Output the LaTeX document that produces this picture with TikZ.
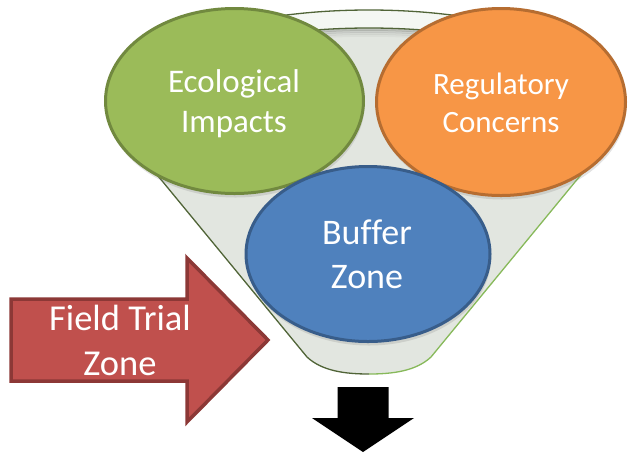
\documentclass[tikz,border=0pt]{standalone}
\usepackage{fontspec}
\setmainfont{Carlito}[Ligatures=NoCommon]
\usetikzlibrary{shapes.geometric,shadows}
\definecolor{ecoFill}{HTML}{9BBB59}
\definecolor{ecoLine}{HTML}{71893F}
\definecolor{regFill}{HTML}{F79646}
\definecolor{regLine}{HTML}{B66D31}
\definecolor{bufFill}{HTML}{4F81BD}
\definecolor{bufLine}{HTML}{385D8A}
\definecolor{ftFill}{HTML}{C0504D}
\definecolor{ftLine}{HTML}{8C3836}
\definecolor{funFill}{RGB}{226,230,224}
\definecolor{funRim}{RGB}{244,247,243}
\definecolor{funDark}{RGB}{80,100,55}
\definecolor{funLight}{RGB}{135,185,90}
\begin{document}
\begin{tikzpicture}[x=1pt,y=-1pt,
  bubble/.style={ellipse, draw, line width=3pt, inner sep=0pt,
    drop shadow={shadow xshift=1pt, shadow yshift=-4pt, opacity=0.22}},
  lbl/.style={text=white, anchor=base, inner sep=0pt},
  funedge/.style={line width=1.3pt},
]
\path[use as bounding box] (0,0) rectangle (628,456);
% funnel body
\fill[funFill] (119,100) .. controls (119,135) and (142,157) .. (163,182)
  -- (307,357) .. controls (322,371) and (345,374) .. (369,374)
  .. controls (393,374) and (416,371) .. (431,357)
  -- (575,182) .. controls (596,157) and (619,135) .. (619,100)
  arc[start angle=0, end angle=-180, x radius=250, y radius=90] -- cycle;
\fill[funRim] (619,100) arc[start angle=0, end angle=-180, x radius=250, y radius=90] -- cycle;
\fill[funFill] (369,100) ellipse[x radius=228, y radius=72];
\begin{scope}
  \clip (369,100) ellipse[x radius=228, y radius=72];
  \foreach \d/\o in {1.5/0.16, 3.5/0.10, 5.5/0.06, 7.5/0.03}
    \draw[black, opacity=\o, line width=2.5pt]
      (597,100+\d) arc[start angle=0, end angle=-180, x radius=228, y radius=72];
\end{scope}
\draw[funedge, funDark] (619,100) arc[start angle=0, end angle=-180, x radius=250, y radius=90];
\draw[funedge, funDark] (597,100) arc[start angle=0, end angle=-180, x radius=228, y radius=72];
\draw[funedge, funDark] (119,100) .. controls (119,135) and (142,157) .. (163,182)
  -- (307,357) .. controls (322,371) and (345,374) .. (369,374);
\draw[funedge, funLight] (369,374) .. controls (393,374) and (416,371) .. (431,357)
  -- (575,182) .. controls (596,157) and (619,135) .. (619,100);
% bubbles
\node[bubble, fill=ecoFill, draw=ecoLine, minimum width=258pt, minimum height=185pt] (eco) at (234.5,101) {};
\node[bubble, fill=regFill, draw=regLine, minimum width=249pt, minimum height=187pt] (reg) at (501,102) {};
\node[bubble, fill=bufFill, draw=bufLine, minimum width=244pt, minimum height=175pt] (buf) at (368,254) {};
\node[lbl, font=\fontsize{33}{40}\selectfont] (ecoA) at (234,92) {Ecological};
\node[lbl, font=\fontsize{33}{40}\selectfont] (ecoB) at (234,132) {Impacts};
\node[lbl, font=\fontsize{31}{38}\selectfont] (regA) at (501,94) {Regulatory};
\node[lbl, font=\fontsize{31}{38}\selectfont] (regB) at (501,132) {Concerns};
\node[lbl, font=\fontsize{36}{44}\selectfont] (bufA) at (367,244) {Buffer};
\node[lbl, font=\fontsize{36}{44}\selectfont] (bufB) at (367,288) {Zone};
% field trial arrow
\draw[ftLine, fill=ftFill, line width=3.5pt, line join=miter]
  (11,299) -- (187,299) -- (187,258) -- (268,340) -- (187,422) -- (187,381) -- (11,381) -- cycle;
\node[lbl, font=\fontsize{36.5}{45}\selectfont] (ftA) at (120,330) {Field Trial};
\node[lbl, font=\fontsize{36.5}{45}\selectfont] (ftB) at (120,375) {Zone};
% output arrow
\fill[black] (337.5,387) -- (388.5,387) -- (388.5,418) -- (414,418) -- (363,452)
  -- (312,418) -- (337.5,418) -- cycle;
\end{tikzpicture}
\end{document}
